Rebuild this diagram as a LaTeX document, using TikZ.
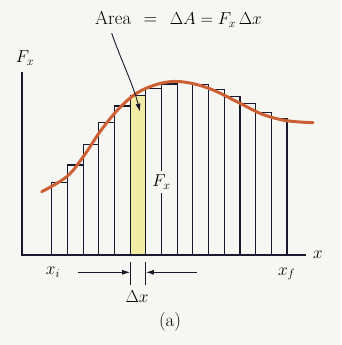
\documentclass[tikz,border=0pt]{standalone}
\usepackage{tikz}
\usetikzlibrary{arrows.meta}
\definecolor{paper}{RGB}{246,246,243}
\definecolor{ink}{RGB}{25,25,45}
\definecolor{fcurve}{RGB}{204,96,52}
\definecolor{hilite}{RGB}{242,237,165}
\begin{document}
\begin{tikzpicture}[x=1pt,y=-1pt,
  font=\fontsize{18.8}{22}\selectfont,
  ln/.style={ink,line width=1.1pt},
  barln/.style={ink,line width=1.1pt},
  lbl/.style={inner sep=1pt},
  ar/.style={-{Latex[length=8pt,width=5pt]},ink,line width=0.9pt}]
\fill[paper] (0,0) rectangle (341,345);
\useasboundingbox (0,0) rectangle (341,345);
% highlighted strip and bars
\fill[hilite] (130.2,95.5) rectangle (145.9,255);
\foreach \xl/\yt in {51.7/182.7,67.4/165,83.1/144.3,98.8/122.7,114.5/106,
  130.2/95.5,145.9/88.3,161.5/84,177.2/82.3,192.9/84.5,208.6/89.5,
  224.3/96.7,240/103.3,255.7/112.3,271.3/118.3}
  \draw[barln] (\xl,255) |- (\xl+15.69,\yt) -- (\xl+15.69,255);
% axes
\draw[ln] (22,71.7) -- (22,255) -- (306,255);
% curve
\draw[fcurve,line width=3pt,line cap=round] plot[smooth,tension=0.6] coordinates
  {(41.7,191.7) (66.7,176.7) (83.3,156.7) (100,131.7) (116.7,111) (133.3,95.5)
   (150,86.7) (170,81.7) (190,83) (213,90) (240,103.3) (263,114.5)
   (286.7,120.7) (313,122.7)};
% labels
\node[lbl] (fy) at (25,58) {$F_x$};
\node[lbl] (xax) at (318,255) {$x$};
\node[lbl] (xi) at (53,272) {$x_i$};
\node[lbl] (xf) at (286.7,274) {$x_f$};
\node[lbl,fill=paper,inner ysep=4pt] (fin) at (161.5,182) {$F_x$};
\node[lbl,anchor=base west] (title) at (94,25)
  {Area\enspace\,=\enspace\,$\Delta A = F_x\,\Delta x$};
\node[lbl] (dx) at (137,297) {$\Delta x$};
\node[lbl] (cap) at (170,322) {(a)};
% arrow to strip
\coordinate (tail) at (111.7,33.3);
\coordinate (tip) at (140,111.7);
\draw[ar] (tail) .. controls (121,60) and (133,84) .. (tip);
% width of strip
\coordinate (tl) at (130.2,262);
\coordinate (tr) at (145.9,262);
\coordinate (al) at (78,272.3);
\coordinate (aR) at (197,272.3);
\draw[ln] (tl) -- ++(0,23);
\draw[ln] (tr) -- ++(0,23);
\draw[ar] (al) -- (al -| tl);
\draw[ar] (aR) -- (aR -| tr);
\end{tikzpicture}
\end{document}
